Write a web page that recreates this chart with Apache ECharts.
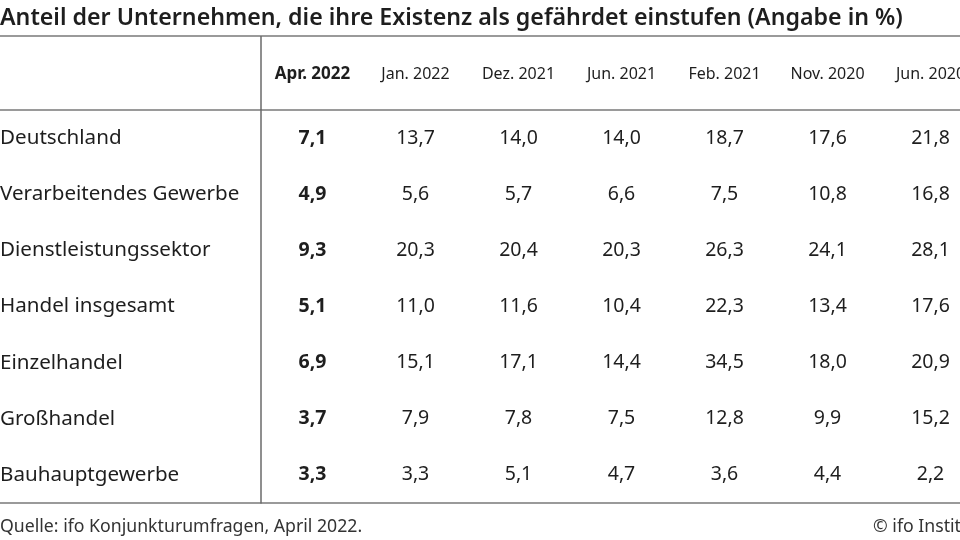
<!DOCTYPE html>
<html>
<head>
<meta charset="utf-8">
<script src="https://cdn.jsdelivr.net/npm/echarts@6/dist/echarts.min.js"></script>
<style>
  html, body { margin: 0; padding: 0; background: #fff; }
  #main { width: 960px; height: 540px; }
</style>
</head>
<body>
<div id="main"></div>
<script>
// table content
const regions = ['Deutschland', 'Verarbeitendes Gewerbe', 'Dienstleistungssektor', 'Handel insgesamt',
    'Einzelhandel', 'Großhandel', 'Bauhauptgewerbe'];
const months = ['Apr. 2022', 'Jan. 2022', 'Dez. 2021', 'Jun. 2021', 'Feb. 2021', 'Nov. 2020', 'Jun. 2020'];
const apr2022 = [7.1, 4.9, 9.3, 5.1, 6.9, 3.7, 3.3];
const jan2022 = [13.7, 5.6, 20.3, 11.0, 15.1, 7.9, 3.3];
const dez2021 = [14.0, 5.7, 20.4, 11.6, 17.1, 7.8, 5.1];
const jun2021 = [14.0, 6.6, 20.3, 10.4, 14.4, 7.5, 4.7];
const feb2021 = [18.7, 7.5, 26.3, 22.3, 34.5, 12.8, 3.6];
const nov2020 = [17.6, 10.8, 24.1, 13.4, 18.0, 9.9, 4.4];
const jun2020 = [21.8, 16.8, 28.1, 17.6, 20.9, 15.2, 2.2];
const columns = [apr2022, jan2022, dez2021, jun2021, feb2021, nov2020, jun2020];

const FONT = '"Noto Sans", "Open Sans", sans-serif';
const TEXT = '#1e1e1e';
const RULE = '#9a9a9a';
const VRULE = '#6a6a6a';

// layout of the table frame (last column runs past the right edge)
const gridLeft = 261, gridTop = 110, gridBottom = 503, headTop = 36, colWidth = 103;

const fmt = v => v.toFixed(1).replace('.', ',');

// cells: [column, row, value]
let cells = [];
columns.forEach((col, c) => {
    col.forEach((v, r) => cells.push([c, r, v]));
});

const chart = echarts.init(document.getElementById('main'));
chart.setOption({
    backgroundColor: '#fff',
    animation: false,
    title: [{
        text: 'Anteil der Unternehmen, die ihre Existenz als gefährdet einstufen (Angabe in %)',
        left: 0, top: 7, padding: 0,
        textStyle: { fontFamily: FONT, fontSize: 23.2, fontWeight: 600, color: TEXT }
    }, {
        text: 'Quelle: ifo Konjunkturumfragen, April 2022.',
        left: 0, top: 518, padding: 0,
        textStyle: { fontFamily: FONT, fontSize: 17.7, fontWeight: 'normal', color: '#333' }
    }, {
        text: '© ifo Institut',
        left: 873, top: 518, padding: 0,
        textStyle: { fontFamily: FONT, fontSize: 17.7, fontWeight: 'normal', color: '#333' }
    }],
    grid: {
        left: gridLeft, top: gridTop,
        width: colWidth * months.length, height: gridBottom - gridTop,
        containLabel: false,
        outerBoundsMode: 'none'
    },
    xAxis: {
        type: 'category',
        position: 'top',
        data: months,
        axisLine: { show: false },
        axisTick: { show: false },
        splitLine: { show: false },
        axisLabel: {
            interval: 0,
            margin: 36,
            verticalAlign: 'middle',
            fontFamily: FONT,
            fontSize: 16,
            color: TEXT,
            formatter: (v, i) => i === 0 ? '{b|' + v + '}' : v,
            rich: { b: { fontFamily: FONT, fontSize: 17, fontWeight: 'bold', color: TEXT } }
        }
    },
    yAxis: {
        type: 'category',
        inverse: true,
        data: regions,
        axisLine: { show: true, lineStyle: { color: VRULE, width: 1.5 } },
        axisTick: { show: false },
        splitLine: { show: false },
        axisLabel: {
            interval: 0,
            margin: gridLeft,
            align: 'left',
            fontFamily: FONT,
            fontSize: 20.6,
            color: TEXT
        }
    },
    graphic: [
        { type: 'line', shape: { x1: 0, y1: headTop, x2: 960, y2: headTop }, style: { stroke: RULE, lineWidth: 2 } },
        { type: 'line', shape: { x1: 0, y1: gridTop, x2: 960, y2: gridTop }, style: { stroke: RULE, lineWidth: 2 } },
        { type: 'line', shape: { x1: 0, y1: gridBottom, x2: 960, y2: gridBottom }, style: { stroke: RULE, lineWidth: 2 } },
        { type: 'line', shape: { x1: gridLeft, y1: headTop, x2: gridLeft, y2: gridTop }, style: { stroke: VRULE, lineWidth: 1.5 } }
    ],
    series: [{
        type: 'custom',
        data: cells,
        renderItem: (params, api) => {
            const p = api.coord([api.value(0), api.value(1)]);
            const first = api.value(0) === 0;
            return {
                type: 'text',
                x: p[0],
                y: p[1],
                style: {
                    text: fmt(api.value(2)),
                    fill: TEXT,
                    font: (first ? 'bold ' : '') + '19.5px ' + FONT,
                    textAlign: 'center',
                    textVerticalAlign: 'middle'
                }
            };
        }
    }]
});
</script>
</body>
</html>
